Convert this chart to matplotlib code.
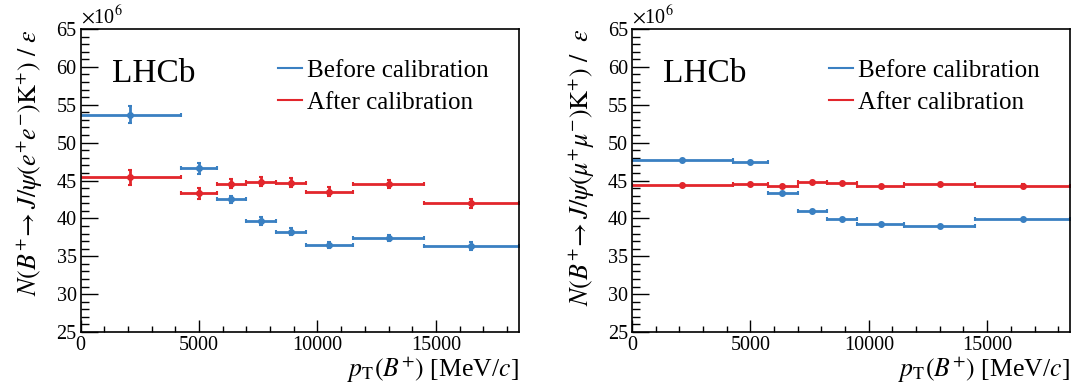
import numpy as np
import matplotlib
matplotlib.use("Agg")
import matplotlib.pyplot as plt
from matplotlib.ticker import MultipleLocator

plt.rcParams['font.family'] = ['Liberation Serif', 'DejaVu Serif']
plt.rcParams['mathtext.fontset'] = 'stix'

# ---- data ----
bin_lo = [0, 4250, 5750, 7000, 8250, 9500, 11500, 14500]
bin_hi = [4250, 5750, 7000, 8250, 9500, 11500, 14500, 18500]
pt_mean = [2100, 5000, 6350, 7600, 8860, 10500, 13000, 16500]

ee_before = [53.7, 46.6, 42.5, 39.65, 38.25, 36.5, 37.4, 36.35]
ee_before_err = [1.1, 0.7, 0.5, 0.5, 0.5, 0.4, 0.45, 0.5]
ee_after = [45.45, 43.3, 44.6, 44.85, 44.7, 43.5, 44.55, 42.0]
ee_after_err = [1.0, 0.7, 0.6, 0.6, 0.6, 0.6, 0.55, 0.6]

mm_before = [47.65, 47.4, 43.35, 41.0, 39.9, 39.2, 39.0, 39.9]
mm_before_err = [0.15, 0.15, 0.15, 0.15, 0.15, 0.15, 0.15, 0.15]
mm_after = [44.45, 44.55, 44.3, 44.8, 44.7, 44.3, 44.55, 44.3]
mm_after_err = [0.15, 0.15, 0.15, 0.15, 0.15, 0.15, 0.15, 0.3]

labels = ["Before calibration", "After calibration"]
ylabels = [r"$N(B^{+}\!\rightarrow J/\psi(e^{+}e^{-})\mathrm{K}^{+})\ /\ \varepsilon$",
           r"$N(B^{+}\!\rightarrow J/\psi(\mu^{+}\mu^{-})\mathrm{K}^{+})\ /\ \ \varepsilon$"]
xlabel = r"$p_{\mathrm{T}}(B^{+})$ [MeV/$c$]"

blue = '#3a80c2'
red = '#e2262c'

fig = plt.figure(figsize=(10.78, 3.92), dpi=100)
ax1 = fig.add_axes([0.0749, 0.153, 0.4063, 0.773])
ax2 = fig.add_axes([0.5863, 0.153, 0.4063, 0.773])

x = np.array(pt_mean)
xerr = np.array([x - np.array(bin_lo), np.array(bin_hi) - x])

for ax, before, berr, after, aerr, yl in [
        (ax1, ee_before, ee_before_err, ee_after, ee_after_err, ylabels[0]),
        (ax2, mm_before, mm_before_err, mm_after, mm_after_err, ylabels[1])]:
    ax.errorbar(x, before, xerr=xerr, yerr=berr, fmt='o', color=blue, ms=4,
                elinewidth=2, capsize=1.5, capthick=1.5, label=labels[0])
    ax.errorbar(x, after, xerr=xerr, yerr=aerr, fmt='o', color=red, ms=4,
                elinewidth=2, capsize=1.5, capthick=1.5, label=labels[1])
    ax.set_xlim(0, 18500)
    ax.set_ylim(25, 65)
    ax.xaxis.set_major_locator(MultipleLocator(5000))
    ax.xaxis.set_minor_locator(MultipleLocator(1000))
    ax.yaxis.set_major_locator(MultipleLocator(5))
    ax.yaxis.set_minor_locator(MultipleLocator(1))
    ax.tick_params(which='both', direction='in', top=False, right=False,
                   labelsize=14.5, width=1, pad=3)
    ax.tick_params(axis='y', which='major', length=12)
    ax.tick_params(axis='y', which='minor', length=6)
    ax.tick_params(axis='x', which='major', length=9)
    ax.tick_params(axis='x', which='minor', length=4.5)
    for s in ax.spines.values():
        s.set_linewidth(1.2)
    ax.set_xlabel(xlabel, fontsize=18.5, loc='right', labelpad=0)
    ax.set_ylabel(yl, fontsize=18.7, loc='top', labelpad=8)
    ax.text(0.071, 0.825, "LHCb", transform=ax.transAxes, fontsize=24,
            ha='left', va='baseline')
    ax.text(0.0, 1.003, r"$\times$10$^{6}$", transform=ax.transAxes,
            fontsize=14.5, ha='left', va='bottom')
    handles = [plt.Line2D([], [], color=blue, lw=1.5),
               plt.Line2D([], [], color=red, lw=1.5)]
    ax.legend(handles, labels, loc='upper left', bbox_to_anchor=(0.45, 0.9),
              frameon=False, fontsize=18, handlelength=0.95, handletextpad=0.2,
              borderaxespad=0, borderpad=0, labelspacing=0.38)

fig.savefig("out.png", dpi=100)
